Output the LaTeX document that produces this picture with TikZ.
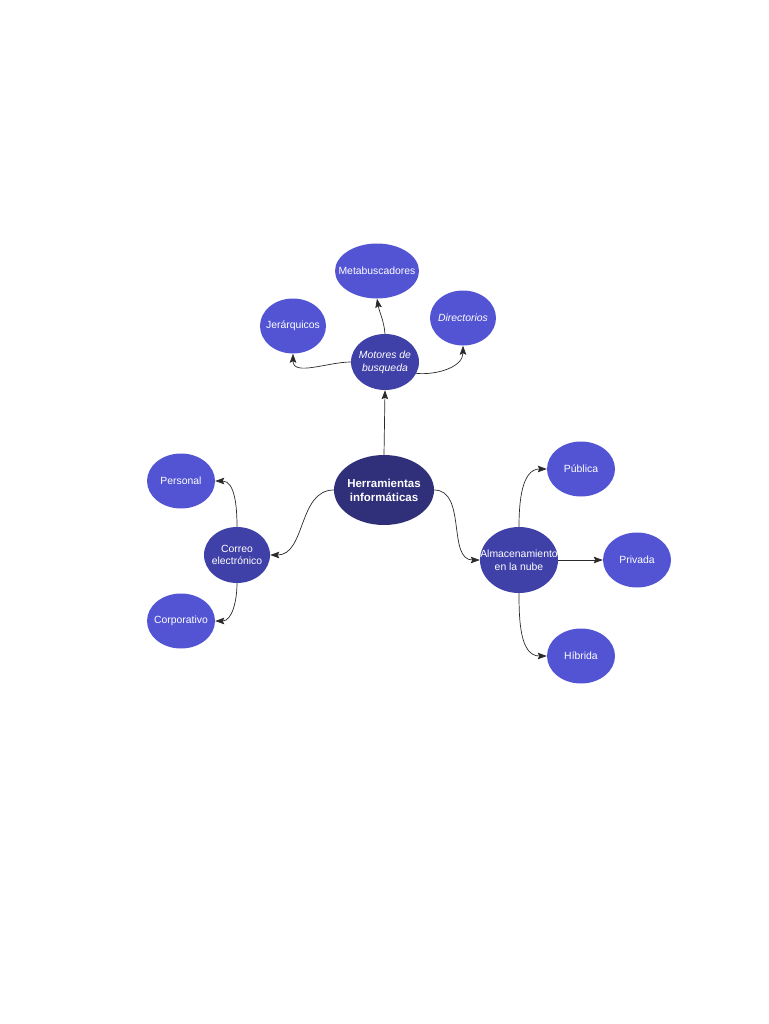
\documentclass[tikz,border=0pt]{standalone}
\usepackage{fontspec}
\setmainfont{Liberation Sans}
\usetikzlibrary{shapes.geometric,arrows.meta}
\definecolor{leafc}{HTML}{5254D4}
\definecolor{midc}{HTML}{3F40A8}
\definecolor{rootc}{HTML}{2F2F7A}
\definecolor{linec}{HTML}{2A2A2A}
\tikzset{
  bubble/.style={ellipse, inner sep=0pt},
  tx/.style={label={[text=white, align=center, inner sep=0pt, font=\fontsize{10.4}{12.8}\selectfont]center:{#1}}},
  txi/.style={label={[text=white, align=center, inner sep=0pt, font=\fontsize{10.4}{12.8}\selectfont\itshape]center:{#1}}},
  txb/.style={label={[text=white, align=center, inner sep=0pt, font=\fontsize{11.5}{14}\selectfont\bfseries]center:{#1}}},
  leaf/.style={bubble, fill=leafc, minimum width=68pt, minimum height=55pt},
  mid/.style={bubble, fill=midc},
  root/.style={bubble, fill=rootc, minimum width=100pt, minimum height=70pt},
  link/.style={draw=linec, line width=0.7pt, -{Stealth[length=9pt,width=6.5pt,inset=1.5pt]}}
}
\begin{document}
\begin{tikzpicture}[x=1pt,y=-1pt]
\useasboundingbox (0,0) rectangle (768,1024);
\node[root, txb={Herramientas\\informáticas}] (her) at (384,490) {};
\node[mid, minimum width=68pt, minimum height=56pt, txi={Motores de\\busqueda}] (mot) at (385,362) {};
\node[leaf, minimum width=84pt, tx={Metabuscadores}] (meta) at (377,271) {};
\node[leaf, minimum width=66pt, tx={Jerárquicos}] (jer) at (293,326) {};
\node[leaf, minimum width=66pt, txi={Directorios}] (dir) at (463,318) {};
\node[mid, minimum width=66pt, minimum height=56pt, tx={Correo\\electrónico}] (cor) at (237,555) {};
\node[leaf, tx={Personal}] (per) at (181,481) {};
\node[leaf, tx={Corporativo}] (corp) at (181,621) {};
\node[mid, minimum width=78pt, minimum height=66pt, tx={Almacenamiento\\en la nube}] (alm) at (519,560) {};
\node[leaf, tx={Pública}] (pub) at (581,469) {};
\node[leaf, tx={Privada}] (pri) at (637,560) {};
\node[leaf, tx={Híbrida}] (hib) at (581,656) {};
\draw[link] (her.north) -- (mot.south);
\draw[link] (mot.north) to[out=95,in=-80] (meta.south);
\draw[link] (mot.west) to[out=180,in=-90] (jer.south);
\draw[link] (mot.-20) to[out=-5,in=-90] (dir.south);
\draw[link] (her.west) to[out=180,in=0] (cor.east);
\draw[link] (cor.north) to[out=90,in=0] (per.east);
\draw[link] (cor.south) to[out=-90,in=0] (corp.east);
\draw[link] (her.east) to[out=0,in=180] (alm.west);
\draw[link] (alm.north) to[out=90,in=180] (pub.west);
\draw[link] (alm.east) -- (pri.west);
\draw[link] (alm.south) to[out=-90,in=180] (hib.west);
\end{tikzpicture}
\end{document}
